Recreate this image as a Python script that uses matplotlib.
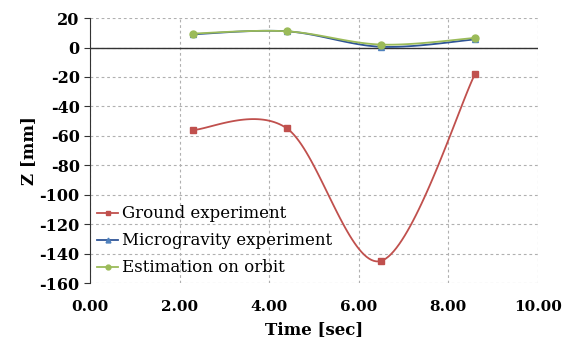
import numpy as np
import matplotlib
matplotlib.use('Agg')
import matplotlib.pyplot as plt

# Data
time_ground = [2.3, 4.4, 6.5, 8.6]
z_ground = [-56, -55, -145, -18]
time_micro = [2.3, 4.4, 6.5, 8.6]
z_micro = [9, 11, 0.5, 5.5]
time_orbit = [2.3, 4.4, 6.5, 8.6]
z_orbit = [9.5, 11, 2.0, 6.5]
labels = ['Ground experiment', 'Microgravity experiment', 'Estimation on orbit']


def smooth(x, y, n=40):
    # Excel-style smoothed line (Catmull-Rom through the points)
    p = np.column_stack([x, y]).astype(float)
    p = np.vstack([p[0], p, p[-1]])
    out = []
    for i in range(1, len(p) - 2):
        p0, p1, p2, p3 = p[i - 1], p[i], p[i + 1], p[i + 2]
        c1 = p1 + (p2 - p0) / 6
        c2 = p2 - (p3 - p1) / 6
        t = np.linspace(0, 1, n)[:, None]
        seg = ((1 - t) ** 3 * p1 + 3 * (1 - t) ** 2 * t * c1
               + 3 * (1 - t) * t ** 2 * c2 + t ** 3 * p2)
        out.append(seg)
    s = np.vstack(out)
    return s[:, 0], s[:, 1]


plt.rcParams['font.family'] = ['DejaVu Serif']
plt.rcParams['axes.unicode_minus'] = False

fig = plt.figure(figsize=(5.63, 3.41), dpi=100)
ax = fig.add_axes([0.160, 0.170, 0.795, 0.777])

series = [
    (time_ground, z_ground, '#C0504D', '#C0504D', 's'),
    (time_micro, z_micro, '#2F5597', '#4F81BD', '^'),
    (time_orbit, z_orbit, '#9BBB59', '#9BBB59', 'o'),
]
for (x, y, lc, mc, m), lab in zip(series, labels):
    sx, sy = smooth(x, y)
    ax.plot(sx, sy, color=lc, lw=1.3, zorder=3)
    ax.plot(x, y, ls='none', marker=m, ms=5, color=mc, zorder=4)
    ax.plot([], [], color=lc, lw=1.3, marker=m, ms=3.5, mfc=mc, mec=mc, label=lab)

ax.axhline(0, color='#333333', lw=1.0, zorder=2)

ax.set_xlim(0, 10)
ax.set_ylim(-160, 20)
ax.set_xticks(np.arange(0, 10.1, 2))
ax.set_xticklabels(['%.2f' % v for v in np.arange(0, 10.1, 2)])
ax.set_yticks(np.arange(-160, 21, 20))
ax.grid(True, ls=(0, (2.5, 2.5)), color='#b0b0b0', lw=0.8)

for s in ['top', 'right', 'bottom']:
    ax.spines[s].set_visible(False)
ax.spines['left'].set_color('#333333')
ax.tick_params(axis='x', length=0, pad=12, labelsize=11)
ax.tick_params(axis='y', length=4, direction='out', labelsize=11.5, color='#333333')
for t in ax.get_xticklabels() + ax.get_yticklabels():
    t.set_fontweight('bold')

ax.set_xlabel('Time [sec]', fontsize=12, fontweight='bold', labelpad=5)
ax.set_ylabel('Z [mm]', fontsize=12, fontweight='bold', labelpad=2)

ax.legend(loc='lower left', frameon=False, fontsize=12, handlelength=1.3,
          handletextpad=0.2, labelspacing=0.6, borderaxespad=0.0,
          bbox_to_anchor=(0.0, 0.0))

fig.savefig('out.png', dpi=100)
